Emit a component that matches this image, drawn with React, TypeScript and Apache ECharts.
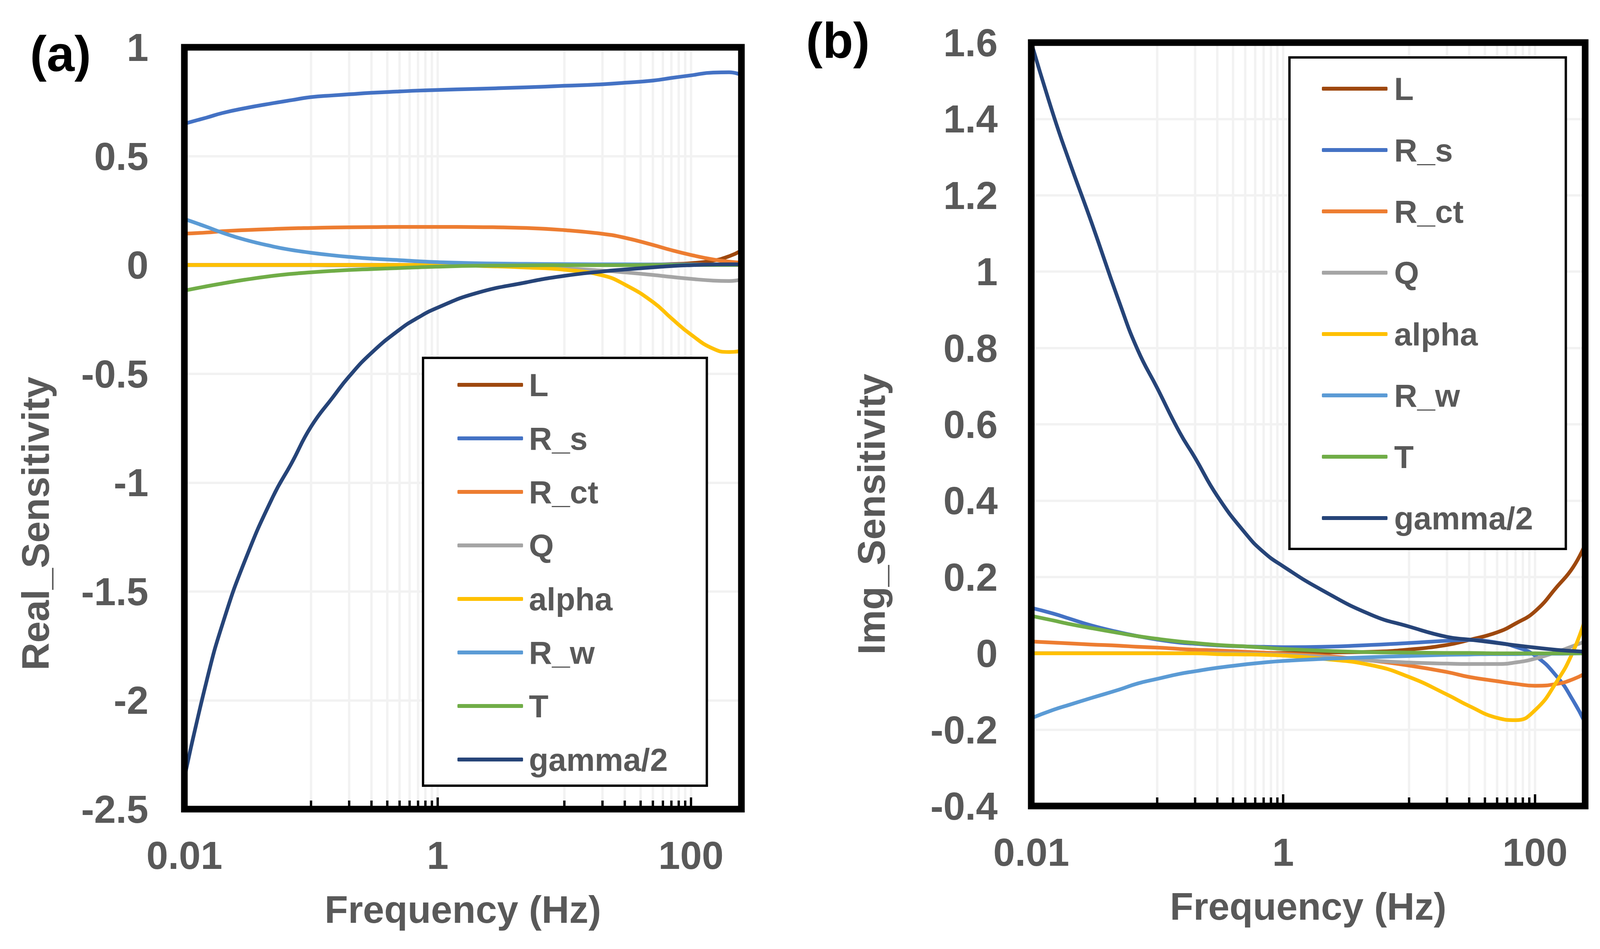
import React, { useEffect, useRef } from 'react';
import * as echarts from 'echarts';

// ---------- data ----------
const freq = [0.01, 0.015, 0.02, 0.03, 0.05, 0.07, 0.1, 0.15, 0.2, 0.3, 0.5, 0.7, 1, 2, 5, 10, 20, 30, 50, 70, 100, 150, 200, 250];

const seriesNames = ['L', 'R_s', 'R_ct', 'Q', 'alpha', 'R_w', 'T', 'gamma/2'];
const seriesColors = ['#9E480E', '#4472C4', '#ED7D31', '#A5A5A5', '#FFC000', '#5B9BD5', '#70AD47', '#264478'];

// panel (a) real sensitivity
const realL = [0, 0, 0, 0, 0, 0, 0, 0, 0, 0, 0, 0, 0, 0, 0, 0, 0, 0.001, 0.002, 0.004, 0.008, 0.02, 0.04, 0.066];
const realRs = [0.649, 0.677, 0.698, 0.72, 0.743, 0.757, 0.771, 0.779, 0.784, 0.791, 0.797, 0.801, 0.804, 0.809, 0.816, 0.823, 0.83, 0.837, 0.847, 0.859, 0.871, 0.884, 0.885, 0.873];
const realRct = [0.144, 0.149, 0.155, 0.16, 0.165, 0.168, 0.17, 0.172, 0.173, 0.174, 0.175, 0.175, 0.175, 0.174, 0.17, 0.16, 0.143, 0.125, 0.092, 0.068, 0.046, 0.025, 0.015, 0.01];
const realQ = [-0.001, -0.001, -0.001, -0.001, -0.001, -0.001, -0.001, -0.002, -0.002, -0.002, -0.002, -0.002, -0.002, -0.004, -0.009, -0.016, -0.026, -0.034, -0.046, -0.055, -0.064, -0.072, -0.074, -0.067];
const realAlpha = [0, 0, 0, 0, 0, 0, 0, 0, 0, 0, 0, 0, -0.001, -0.004, -0.012, -0.022, -0.048, -0.09, -0.17, -0.245, -0.32, -0.385, -0.4, -0.395];
const realRw = [0.211, 0.175, 0.148, 0.116, 0.085, 0.069, 0.056, 0.044, 0.037, 0.029, 0.022, 0.017, 0.013, 0.008, 0.005, 0.004, 0.003, 0.003, 0.002, 0.002, 0.002, 0.001, 0.001, 0.001];
const realT = [-0.118, -0.098, -0.085, -0.068, -0.05, -0.041, -0.034, -0.027, -0.023, -0.019, -0.014, -0.011, -0.008, -0.004, -0.002, -0.001, -0.001, -0.001, 0, 0, 0, 0, 0, 0];
const realGamma = [-2.355, -1.91, -1.65, -1.36, -1.065, -0.912, -0.743, -0.605, -0.512, -0.404, -0.297, -0.242, -0.196, -0.13, -0.08, -0.05, -0.03, -0.021, -0.011, -0.005, -0.001, 0.002, 0.003, 0.003];

// panel (b) imaginary sensitivity
const imgL = [0, 0, 0, 0, 0, 0, 0, 0, 0, 0, 0.001, 0.001, 0.001, 0.002, 0.004, 0.01, 0.022, 0.035, 0.055, 0.078, 0.11, 0.175, 0.225, 0.285];
const imgRs = [0.119, 0.104, 0.091, 0.073, 0.055, 0.045, 0.036, 0.028, 0.025, 0.021, 0.018, 0.017, 0.016, 0.017, 0.022, 0.027, 0.033, 0.035, 0.028, 0.017, -0.006, -0.062, -0.123, -0.182];
const imgRct = [0.031, 0.028, 0.026, 0.023, 0.02, 0.017, 0.015, 0.0115, 0.0095, 0.0075, 0.004, 0.002, -0.001, -0.006, -0.019, -0.032, -0.049, -0.062, -0.073, -0.08, -0.085, -0.08, -0.068, -0.053];
const imgQ = [0, 0, 0, 0, 0, 0, 0, 0, 0, 0, -0.001, -0.002, -0.004, -0.009, -0.019, -0.024, -0.027, -0.028, -0.028, -0.024, -0.014, 0.004, 0.019, 0.031];
const imgAlpha = [0, 0, 0, 0, 0, 0, 0, 0, 0, -0.002, -0.003, -0.004, -0.006, -0.014, -0.031, -0.062, -0.108, -0.138, -0.169, -0.175, -0.149, -0.072, 0.004, 0.089];
const imgRw = [-0.17, -0.148, -0.135, -0.117, -0.095, -0.079, -0.067, -0.054, -0.047, -0.038, -0.029, -0.024, -0.02, -0.015, -0.01, -0.007, -0.004, -0.003, -0.002, -0.002, -0.001, -0.001, -0.0005, 0];
const imgT = [0.098, 0.086, 0.077, 0.066, 0.053, 0.045, 0.038, 0.031, 0.027, 0.022, 0.018, 0.015, 0.0115, 0.007, 0.003, 0.002, 0.001, 0.001, 0, 0, 0, 0, 0, 0];
const imgGamma = [1.6, 1.41, 1.29, 1.13, 0.92, 0.795, 0.695, 0.58, 0.512, 0.412, 0.315, 0.265, 0.228, 0.167, 0.101, 0.07, 0.043, 0.036, 0.027, 0.021, 0.015, 0.009, 0.006, 0.004];

// x axis decorations (Excel log base-100 axis)
const xMinorLines = [0.1, 0.2, 0.3, 0.4, 0.5, 0.6, 0.7, 0.8, 0.9, 10, 20, 30, 40, 50, 60, 70, 80, 90];
const xMajorLines = [1, 100];
const xTickLabels = [0.01, 1, 100];
const xTickText = ['0.01', '1', '100'];

const FONT = "'Liberation Sans', Arial, Helvetica, sans-serif";
const GRAY = '#595959';

const realSets = [realL, realRs, realRct, realQ, realAlpha, realRw, realT, realGamma];
const imgSets = [imgL, imgRs, imgRct, imgQ, imgAlpha, imgRw, imgT, imgGamma];

const pair = (vals: number[]) => freq.map((f, i) => [f, vals[i]]);

function xLabelFormatter(v: number) {
  for (let i = 0; i < xTickLabels.length; i++) {
    if (Math.abs(Math.log10(v) - Math.log10(xTickLabels[i])) < 1e-6) return xTickText[i];
  }
  return '';
}
const yLabelFormatter = (v: number) => String(Math.round(v * 10) / 10);

function buildOption() {
  const panels = [
    { sets: realSets, yMin: -2.5, yMax: 1, interval: 0.5, labelMargin: 92 },
    { sets: imgSets, yMin: -0.4, yMax: 1.6, interval: 0.2, labelMargin: 86 },
  ];

  const series: any[] = [];
  panels.forEach((p, gi) => {
    // vertical gridlines
    series.push({
      type: 'custom',
      xAxisIndex: gi,
      yAxisIndex: gi,
      silent: true,
      z: 1,
      data: [...xMinorLines, ...xMajorLines].map((x) => [x, p.yMin]),
      encode: { x: 0, y: 1 },
      renderItem: (params: any, api: any) => {
        const x = api.value(0);
        const a = api.coord([x, p.yMax]);
        const b = api.coord([x, p.yMin]);
        return {
          type: 'line',
          shape: { x1: a[0], y1: a[1], x2: b[0], y2: b[1] },
          style: { stroke: '#F2F2F2', lineWidth: 6 },
        };
      },
    });
    // curves
    p.sets.forEach((vals, si) => {
      series.push({
        type: 'line',
        name: seriesNames[si],
        xAxisIndex: gi,
        yAxisIndex: gi,
        data: pair(vals),
        smooth: 0.5,
        symbol: 'none',
        showSymbol: false,
        z: 3,
        lineStyle: { color: seriesColors[si], width: 9.5, cap: 'round', join: 'round' },
        itemStyle: { color: seriesColors[si] },
        emphasis: { disabled: true },
      });
    });
    // inside tick marks on bottom axis
    series.push({
      type: 'custom',
      xAxisIndex: gi,
      yAxisIndex: gi,
      silent: true,
      z: 5,
      data: [...xMinorLines.map((x) => [x, p.yMin, 22]), ...xMajorLines.map((x) => [x, p.yMin, 30])],
      encode: { x: 0, y: 1 },
      renderItem: (params: any, api: any) => {
        const x = api.value(0);
        const len = api.value(2);
        const b = api.coord([x, p.yMin]);
        return {
          type: 'line',
          shape: { x1: b[0], y1: b[1], x2: b[0], y2: b[1] - len },
          style: { stroke: '#000', lineWidth: 6 },
        };
      },
    });
  });

  const xAxisCommon = {
    type: 'log',
    logBase: 100,
    min: 0.01,
    max: 250,
    axisLine: { show: false },
    axisTick: { show: false },
    minorTick: { show: false },
    splitLine: { show: false },
    axisLabel: {
      color: GRAY,
      fontSize: 100,
      fontWeight: 'bold',
      fontFamily: FONT,
      margin: 68,
      formatter: xLabelFormatter,
      showMaxLabel: false,
    },
    name: 'Frequency (Hz)',
    nameLocation: 'middle',
    nameGap: 208,
    nameTextStyle: { color: GRAY, fontSize: 98, fontWeight: 'bold', fontFamily: FONT },
  };

  const legendCommon = {
    data: seriesNames,
    orient: 'vertical',
    icon: 'roundRect',
    itemWidth: 168,
    itemHeight: 10,
    borderColor: '#000',
    borderWidth: 6,
    backgroundColor: '#fff',
    selectedMode: false,
    z: 6,
  };

  return {
    animation: false,
    backgroundColor: '#fff',
    grid: [
      { left: 472, top: 121, width: 1426, height: 1950, show: true, borderColor: '#000', borderWidth: 17, backgroundColor: 'transparent', z: 10, containLabel: false, outerBoundsMode: 'none' },
      { left: 2640, top: 109, width: 1418, height: 1954, show: true, borderColor: '#000', borderWidth: 17, backgroundColor: 'transparent', z: 10, containLabel: false, outerBoundsMode: 'none' },
    ],
    xAxis: [
      { ...xAxisCommon, gridIndex: 0 },
      { ...xAxisCommon, gridIndex: 1 },
    ],
    yAxis: panels.map((p, gi) => ({
      type: 'value',
      gridIndex: gi,
      min: p.yMin,
      max: p.yMax,
      interval: p.interval,
      axisLine: { show: false },
      axisTick: { show: false },
      splitLine: { show: true, lineStyle: { color: '#F2F2F2', width: 6 } },
      axisLabel: {
        color: GRAY,
        fontSize: 100,
        fontWeight: 'bold',
        fontFamily: FONT,
        margin: p.labelMargin,
        formatter: yLabelFormatter,
      },
    })),
    legend: [
      {
        ...legendCommon,
        left: 1083,
        top: 916,
        itemGap: 55,
        padding: [28, 100, 26, 88],
        textStyle: { color: GRAY, fontSize: 82, fontWeight: 'bold', fontFamily: FONT, lineHeight: 80, padding: [0, 0, 0, 10] },
      },
      {
        ...legendCommon,
        left: 3301,
        top: 147,
        itemGap: 75,
        padding: [39, 84, 38, 83],
        textStyle: { color: GRAY, fontSize: 82, fontWeight: 'bold', fontFamily: FONT, lineHeight: 80, padding: [0, 0, 0, 12] },
      },
    ],
    graphic: [
      {
        type: 'text', x: 155, y: 137, z: 20,
        style: { text: '(a)', fill: '#000', fontSize: 128, fontWeight: 'bold', fontFamily: FONT, align: 'center', verticalAlign: 'middle', textAlign: 'center', textVerticalAlign: 'middle' },
      },
      {
        type: 'text', x: 2145, y: 103, z: 20,
        style: { text: '(b)', fill: '#000', fontSize: 128, fontWeight: 'bold', fontFamily: FONT, align: 'center', verticalAlign: 'middle', textAlign: 'center', textVerticalAlign: 'middle' },
      },
      {
        type: 'text', x: 91, y: 1340, rotation: Math.PI / 2, z: 20,
        style: { text: 'Real_Sensitivity', fill: GRAY, fontSize: 98, fontWeight: 'bold', fontFamily: FONT, align: 'center', verticalAlign: 'middle', textAlign: 'center', textVerticalAlign: 'middle' },
      },
      {
        type: 'text', x: 2231, y: 1316, rotation: Math.PI / 2, z: 20,
        style: { text: 'Img_Sensitivity', fill: GRAY, fontSize: 98, fontWeight: 'bold', fontFamily: FONT, align: 'center', verticalAlign: 'middle', textAlign: 'center', textVerticalAlign: 'middle' },
      },
    ],
    series,
  };
}

export default function App() {
  const ref = useRef<HTMLDivElement>(null);
  useEffect(() => {
    if (!ref.current) return;
    const chart = echarts.init(ref.current, undefined, { renderer: 'svg' });
    chart.setOption(buildOption() as any);
    return () => chart.dispose();
  }, []);
  return (
    <div
      ref={ref}
      style={{ position: 'absolute', left: 0, top: 0, width: 4108, height: 2429, background: '#fff' }}
    />
  );
}
